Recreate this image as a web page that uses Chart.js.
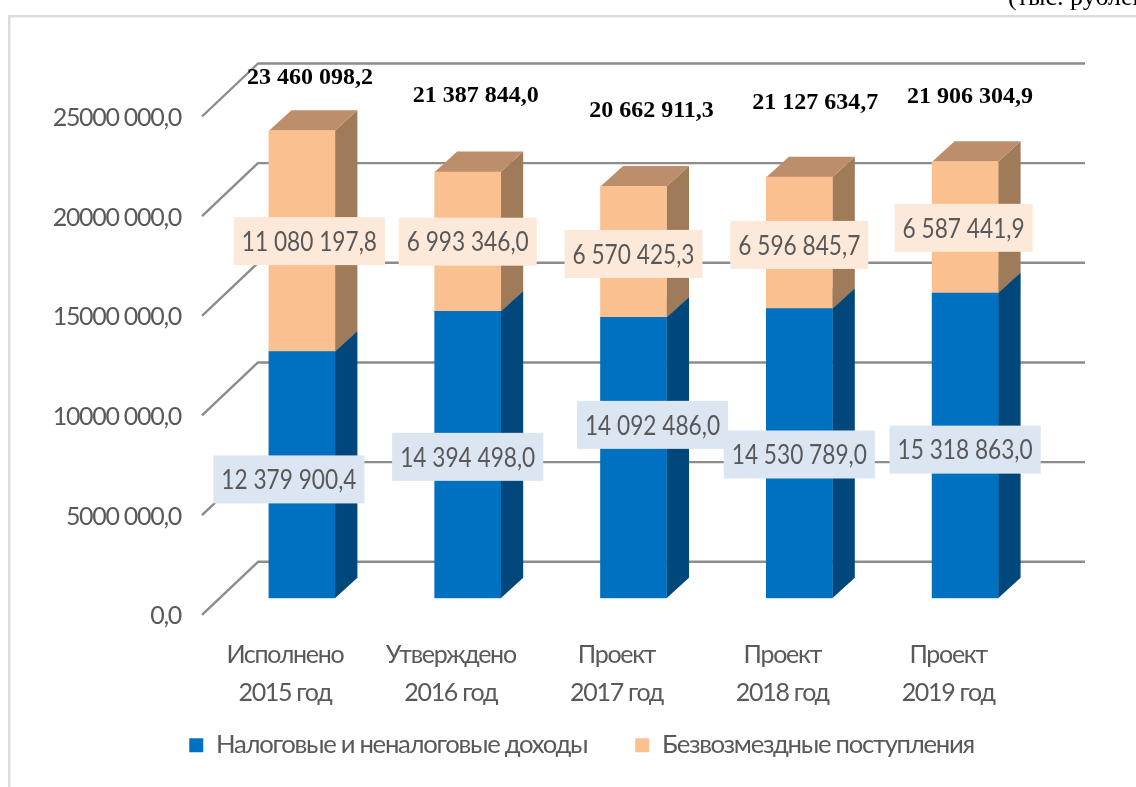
<!DOCTYPE html>
<html><head><meta charset="utf-8">
<style>html,body{margin:0;padding:0;background:#fff;overflow:hidden}canvas{display:block}</style>
<script src="https://cdn.jsdelivr.net/npm/chart.js@4"></script>
</head><body><canvas id="c" width="1136" height="787"></canvas>
<script>
const categories = [['Исполнено','2015 год'],['Утверждено','2016 год'],['Проект','2017 год'],['Проект','2018 год'],['Проект','2019 год']];
const taxIncome = [12379900.4,14394498.0,14092486.0,14530789.0,15318863.0];
const transfers = [11080197.8,6993346.0,6570425.3,6596845.7,6587441.9];
const taxText = ['12 379 900,4','14 394 498,0','14 092 486,0','14 530 789,0','15 318 863,0'];
const transferText = ['11 080 197,8','6 993 346,0','6 570 425,3','6 596 845,7','6 587 441,9'];
const totalText = ['23 460 098,2','21 387 844,0','20 662 911,3','21 127 634,7','21 906 304,9'];
const yTickLabels = ['0,0','5000 000,0','10000 000,0','15000 000,0','20000 000,0','25000 000,0'];
const seriesNames = ['Налоговые и неналоговые доходы','Безвозмездные поступления'];
const unitText = '(тыс. рублей)';

// layout (px)
const taxOffset = [[-13,4.5],[0,2],[19,-33],[0,1],[0,4]];
const transferOffset = [[7.5,0],[0,0],[0,2],[0,2],[-1.5,0.5]];
const totalOffset = [[8,-53],[8,-76],[18,-76],[16,-74],[5,-65]];
const DX = 22.5, DY = -20.5;
const SANS = 'Lato,"Open Sans",sans-serif';
const TIGHT = '-1.3px';

function poly(ctx, pts, fill){
  ctx.beginPath(); pts.forEach((p,i)=> i?ctx.lineTo(p[0],p[1]):ctx.moveTo(p[0],p[1])); ctx.closePath();
  ctx.fillStyle = fill; ctx.fill();
}
const sideColors = ['#00487C','#9F7B5A'], topColors = ['#004F88','#BC8E6B'];

const depthPlugin = {
  id:'depth',
  beforeUpdate(chart){ chart.ctx.letterSpacing = TIGHT; },
  afterLayout(chart){
    const l = chart.legend; const sx = 57.5, sy = -34;
    l.left += sx; l.right += sx; l.top += sy; l.bottom += sy;
  },
  beforeDraw(chart){
    const ctx = chart.ctx;
    ctx.letterSpacing = TIGHT;
    ctx.save();
    ctx.letterSpacing = '0px';
    ctx.fillStyle = '#fff'; ctx.fillRect(0,0,1136,787);
    ctx.fillStyle = '#DDDDDD';
    ctx.fillRect(8,15,1128,2.5); ctx.fillRect(8,15,2.5,772);
    ctx.fillStyle = '#000'; ctx.font = '26px "Liberation Serif",serif';
    ctx.textAlign='left'; ctx.textBaseline='alphabetic';
    ctx.fillText(unitText,1008,4.5);
    ctx.restore();
  },
  beforeDatasetsDraw(chart){
    const ctx = chart.ctx, y = chart.scales.y;
    ctx.save();
    ctx.strokeStyle = '#8C8C8C'; ctx.lineWidth = 2.4; ctx.lineCap='butt'; ctx.lineJoin='round';
    y.ticks.forEach(t=>{
      const p = y.getPixelForValue(t.value);
      ctx.beginPath(); ctx.moveTo(202,p+16.5); ctx.lineTo(258,p-36.5); ctx.lineTo(1085,p-36.5); ctx.stroke();
    });
    [0,1].forEach(d=>{
      chart.getDatasetMeta(d).data.forEach(b=>{
        const r = b.x+b.width/2, l = b.x-b.width/2;
        poly(ctx,[[r,b.y],[r+DX,b.y+DY],[r+DX,b.base+DY],[r,b.base]],sideColors[d]);
        poly(ctx,[[l,b.y],[l+DX,b.y+DY],[r+DX,b.y+DY],[r,b.y]],topColors[d]);
      });
    });
    ctx.restore();
  },
  afterDatasetsDraw(chart){
    const ctx = chart.ctx;
    ctx.save();
    ctx.letterSpacing = '0px';
    ctx.textAlign='center'; ctx.textBaseline='middle';
    const SX = 0.84;
    const box = (text,cx,cy,fill)=>{
      ctx.font = '27px '+SANS;
      const w = ctx.measureText(text).width*SX + 16;
      ctx.fillStyle = fill; ctx.fillRect(cx-w/2,cy-24,w,48);
      ctx.save(); ctx.translate(cx,cy+1); ctx.scale(SX,1);
      ctx.fillStyle = '#595959'; ctx.fillText(text,0,0);
      ctx.restore();
    };
    const tax = chart.getDatasetMeta(0).data, tr = chart.getDatasetMeta(1).data;
    tax.forEach((b,i)=> box(taxText[i], b.x+taxOffset[i][0], (b.y+b.base)/2+taxOffset[i][1], '#DCE6F2'));
    tr.forEach((b,i)=> box(transferText[i], b.x+transferOffset[i][0], (b.y+b.base)/2+transferOffset[i][1], '#FDE9D9'));
    ctx.font = 'bold 24px "Liberation Serif",serif'; ctx.fillStyle='#000';
    tr.forEach((b,i)=> ctx.fillText(totalText[i], b.x+totalOffset[i][0], b.y+totalOffset[i][1]));
    ctx.restore();
  }
};

new Chart(document.getElementById('c'),{
  type:'bar',
  data:{labels:categories,datasets:[
    {label:seriesNames[0],data:taxIncome,backgroundColor:'#0070C0',stack:'s',barThickness:66},
    {label:seriesNames[1],data:transfers,backgroundColor:'#FAC08F',stack:'s',barThickness:66}
  ]},
  plugins:[depthPlugin],
  options:{
    responsive:false,animation:false,
    layout:{padding:{top:100,right:88,left:0,bottom:-15}},
    plugins:{
      tooltip:{enabled:false},
      legend:{position:'bottom',labels:{boxWidth:14,boxHeight:14,padding:48,color:'#595959',font:{family:SANS,size:25.7}}}
    },
    scales:{
      x:{stacked:true,grid:{display:false},border:{display:false},
        afterFit(s){s.height=120;},
        ticks:{color:'#595959',font:{family:SANS,size:25,lineHeight:1.5},labelOffset:-17,padding:30,maxRotation:0,autoSkip:false}},
      y:{stacked:true,min:0,max:25000000,grid:{display:false,drawTicks:false},border:{display:false},
        afterFit(s){s.width=219;},
        ticks:{stepSize:5000000,color:'#595959',font:{family:SANS,size:25},labelOffset:18,padding:38,
          callback(v,i){return yTickLabels[i];}}}
    }
  }
});
</script></body></html>
